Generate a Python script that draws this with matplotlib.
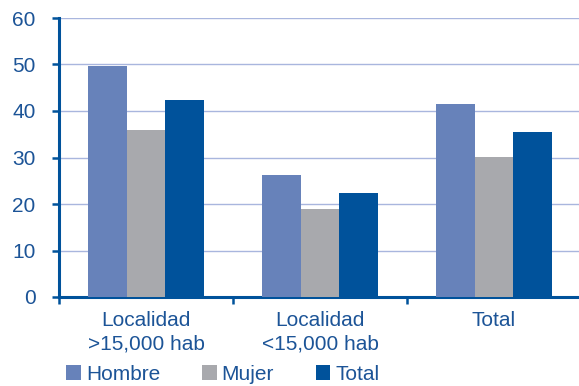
import numpy as np
import matplotlib.pyplot as plt
from matplotlib.patches import Patch

categories = ['Localidad\n>15,000 hab', 'Localidad\n<15,000 hab', 'Total']
series = ['Hombre', 'Mujer', 'Total']
hombre = [49.7, 26.2, 41.5]
mujer = [36.0, 19.0, 30.2]
total = [42.3, 22.3, 35.5]
y_ticks = [0, 10, 20, 30, 40, 50, 60]

colors = ['#6782ba', '#a8a9ad', '#00529b']
text_color = '#1c5497'
axis_color = '#00529b'

plt.rcParams['font.family'] = ['Liberation Sans', 'DejaVu Sans']

fig = plt.figure(figsize=(5.79, 3.86), dpi=100)
ax = fig.add_axes([59 / 579, 89 / 386, 522 / 579, 279 / 386])

x = np.arange(len(categories))
width = 0.222
for i, (vals, name) in enumerate(zip([hombre, mujer, total], series)):
    ax.bar(x + (i - 1) * width, vals, width, color=colors[i], label=name, zorder=3)

ax.set_ylim(0, 60)
ax.set_xlim(-0.5, len(categories) - 0.5)
ax.set_yticks(y_ticks)
ax.yaxis.grid(True, color='#a9b6de', linewidth=1.0, zorder=0)
ax.set_axisbelow(True)

for side in ['top', 'right']:
    ax.spines[side].set_visible(False)
for side in ['left', 'bottom']:
    ax.spines[side].set_color(axis_color)
    ax.spines[side].set_linewidth(2.2)

# category ticks sit on the group boundaries, labels in the middle
ax.set_xticks(np.arange(-0.5, len(categories)), minor=False)
ax.set_xticklabels([])
ax.set_xticks(x, minor=True)
ax.set_xticklabels(categories, minor=True, fontsize=15, color=text_color,
                   linespacing=1.3)
ax.tick_params(axis='x', which='major', length=5, width=1.8, color=axis_color, direction='out')
ax.tick_params(axis='x', which='minor', length=0, pad=10)
ax.tick_params(axis='y', length=5, width=1.8, color=axis_color, direction='out',
               labelsize=15, labelcolor=text_color, pad=12)

handles = [Patch(facecolor=c, edgecolor='none', label=s) for c, s in zip(colors, series)]
fig.legend(handles=handles, loc='center left', bbox_to_anchor=(0.1, 0.03), ncol=3,
           frameon=False, fontsize=15, labelcolor=text_color, handlelength=0.7,
           handleheight=0.7, handletextpad=0.25, columnspacing=2.0, borderaxespad=0)

fig.savefig('out.png', dpi=100)
